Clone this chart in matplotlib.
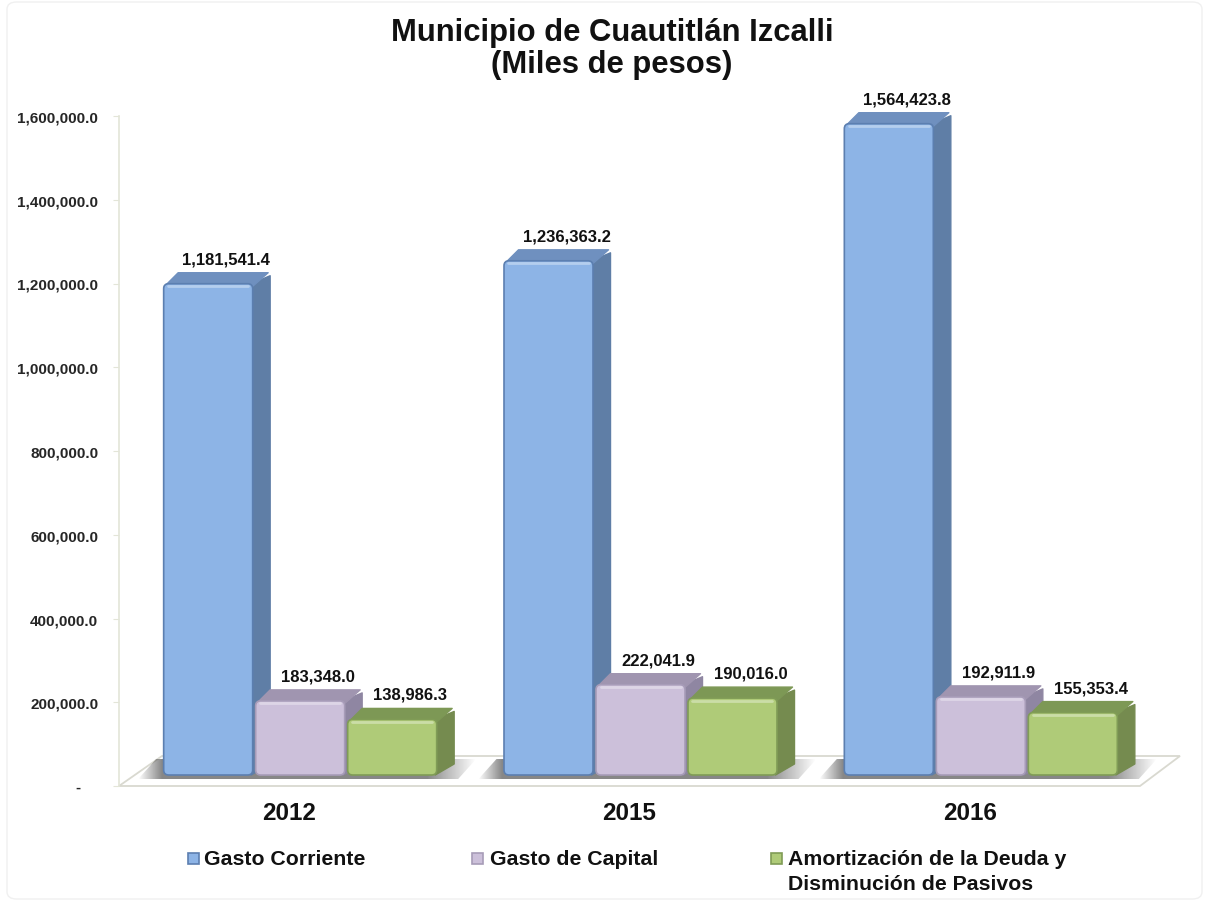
import matplotlib
matplotlib.use('Agg')
import matplotlib.pyplot as plt
import numpy as np
from matplotlib.patches import FancyBboxPatch, Polygon, Rectangle

plt.rcParams['font.family'] = ['Liberation Sans', 'DejaVu Sans']

years = ['2012', '2015', '2016']
gasto_corriente = [1181541.4, 1236363.2, 1564423.8]
gasto_capital = [183348.0, 222041.9, 192911.9]
amortizacion = [138986.3, 190016.0, 155353.4]
y_ticks = [0, 200000, 400000, 600000, 800000, 1000000, 1200000, 1400000, 1600000]
y_labels = ['-    ', '200,000.0', '400,000.0', '600,000.0', '800,000.0',
            '1,000,000.0', '1,200,000.0', '1,400,000.0', '1,600,000.0']
series_names = ['Gasto Corriente', 'Gasto de Capital',
                'Amortización de la Deuda y\nDisminución de Pasivos']

W, H = 1207, 904
# front, top, side, edge
colors = [('#8db4e6', '#6f90bf', '#5f7ea6', '#5c7fb0'),
          ('#ccc0da', '#a095b0', '#8f86a2', '#a79cb8'),
          ('#afcb78', '#7d9855', '#758b4f', '#809c56')]

fig = plt.figure(figsize=(W / 100, H / 100), dpi=100, facecolor='white')

# outer frame
fig.add_artist(FancyBboxPatch((7 / W, 1 - 900 / H), 1195 / W, 897 / H,
                              boxstyle='round,pad=0,rounding_size=0.008',
                              transform=fig.transFigure, fc='white', ec='#f0f0f0', lw=1, zorder=-1))

ax = fig.add_axes([119 / W, 1 - 787 / H, 1021 / W, 670 / H])
ax.set_facecolor('none')

px_x = 3 / 1021           # data units per pixel
px_y = 1600000 / 670

for s in ['top', 'right', 'bottom']:
    ax.spines[s].set_visible(False)
ax.spines['left'].set_color('#e3e5d8')
ax.spines['left'].set_linewidth(1.2)
ax.set_yticks(y_ticks)
ax.set_yticklabels(y_labels, fontsize=11, fontweight='bold', color='#262626')
ax.tick_params(axis='y', length=4, color='#e3e5d8', pad=11)
ax.set_xticks(range(3))
ax.set_xticklabels(years, fontsize=17.5, fontweight='bold', color='#111111')
ax.tick_params(axis='x', length=0, pad=11)

# floor
x0, x1 = -0.5, 2.5
ax.add_patch(Polygon([(x0, 0), (x1, 0), (x1 + 40 * px_x, 30 * px_y), (x0 + 43 * px_x, 30 * px_y)],
                     closed=True, fc='white', ec='#d9d9d0', lw=1.3, clip_on=False, zorder=1))

bar_w = 92 * px_x
depth_x = 16 * px_x
depth_y = 11 * px_y
floor_y = 11 * px_y       # front faces stand on the floor, above the axis zero
base = 8.5 * px_y
front_scale = 0.998

all_series = [gasto_corriente, gasto_capital, amortizacion]

for g in range(3):
    left = g + 11 * px_x - 1.5 * bar_w
    # floor shadow, fades out on both sides
    sx0 = left - 24 * px_x
    sx1 = left + 3 * bar_w + 38 * px_x
    ramp = np.concatenate([np.linspace(0, 0.7, 25), np.full(270, 0.7), np.linspace(0.7, 0, 50)])
    rgba = np.zeros((1, ramp.size, 4))
    rgba[..., :3] = 0.33
    rgba[..., 3] = ramp
    im = ax.imshow(rgba, extent=(sx0, sx1, floor_y - 4 * px_y, floor_y + 16 * px_y), aspect='auto',
                   zorder=2, interpolation='bilinear')
    clip = Polygon([(sx0, floor_y - 4 * px_y), (sx1 - 18 * px_x, floor_y - 4 * px_y),
                    (sx1, floor_y + 16 * px_y), (sx0 + 18 * px_x, floor_y + 16 * px_y)],
                   closed=True, transform=ax.transData)
    im.set_clip_path(clip)
    im.set_clip_box(fig.bbox)
    for i, values in enumerate(all_series):
        v = values[g]
        xl = left + i * bar_w
        xr = xl + bar_w
        yb = floor_y
        yt = base + v * front_scale
        front, top, side, edge = colors[i]
        z = 3 + i
        ax.add_patch(Polygon([(xr - 3 * px_x, yb), (xr + depth_x, yb + depth_y),
                              (xr + depth_x, yt + depth_y - 3 * px_y), (xr - 3 * px_x, yt)],
                             closed=True, fc=side, ec=side, lw=1, joinstyle='round', clip_on=False, zorder=z))
        ax.add_patch(Polygon([(xl + 2 * px_x, yt - 3 * px_y), (xl + depth_x, yt + depth_y),
                              (xr + depth_x - 2 * px_x, yt + depth_y), (xr - 2 * px_x, yt - 3 * px_y)],
                             closed=True, fc=top, ec=top, lw=1, joinstyle='round', clip_on=False, zorder=z))
        r = 5 * px_x
        ax.add_patch(FancyBboxPatch((xl + 1.5 * px_x, yb), bar_w - 3 * px_x, yt - yb,
                                    boxstyle='round,pad=0,rounding_size=%f' % r,
                                    mutation_aspect=px_y / px_x, fc=front, ec=edge, lw=1.2,
                                    clip_on=False, zorder=z + 0.1))
        ax.plot([xl + 6 * px_x, xr - 6 * px_x], [yt - 2.5 * px_y, yt - 2.5 * px_y], color='white',
                alpha=0.35, lw=2, clip_on=False, zorder=z + 0.2, solid_capstyle='round')
        ax.text(xl + bar_w / 2 + 18 * px_x, yt + depth_y + 14 * px_y, format(v, ',.1f'),
                ha='center', va='center', fontsize=12, fontweight='bold', color='#111111',
                clip_on=False, zorder=10)

ax.set_xlim(-0.5, 2.5)
ax.set_ylim(0, 1600000)

# title
fig.text(612 / W, 1 - 49 / H, 'Municipio de Cuautitlán Izcalli\n(Miles de pesos)',
         ha='center', va='center', fontsize=22.3, fontweight='bold', color='#111111', linespacing=1.1)

# legend
legend_sq = [188, 472, 771]
legend_tx = [204, 490, 788]
for i, name in enumerate(series_names):
    fig.add_artist(Rectangle((legend_sq[i] / W, 1 - 865 / H), 11 / W, 11 / H, transform=fig.transFigure,
                             fc=colors[i][0], ec=colors[i][3], lw=1.2))
    fig.text(legend_tx[i] / W, 1 - 850 / H, name, ha='left', va='top', fontsize=15.3, fontweight='bold',
             color='#111111', linespacing=1.38)

fig.savefig('out.png', dpi=100)
